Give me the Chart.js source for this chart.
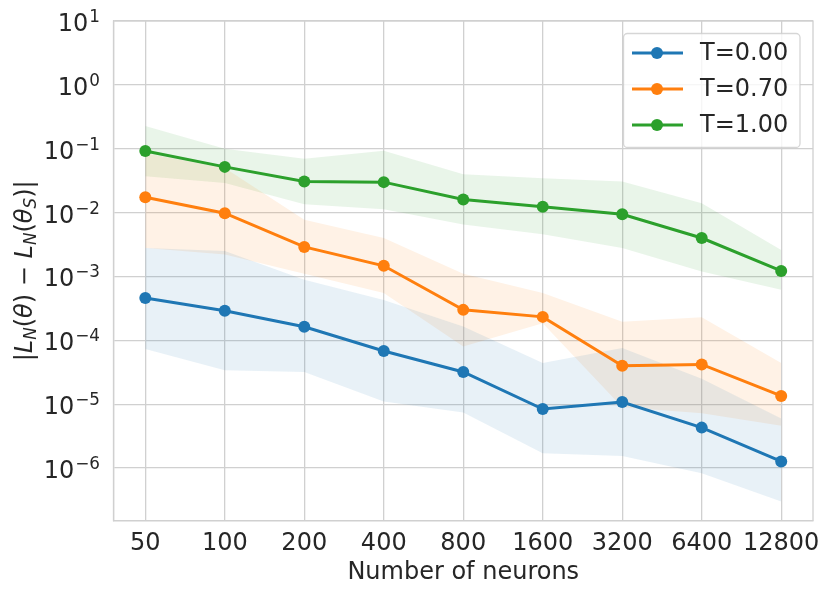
<!DOCTYPE html>
<html>
<head>
<meta charset="utf-8">
<script src="https://cdn.jsdelivr.net/npm/chart.js@4/dist/chart.umd.min.js"></script>
<style>
  html, body { margin: 0; padding: 0; background: #fff; }
  #chart { display: block; }
</style>
</head>
<body>
<canvas id="chart" width="831" height="598"></canvas>
<script>
// x categories
const neurons = ['50', '100', '200', '400', '800', '1600', '3200', '6400', '12800'];
const yPowers = [-6, -5, -4, -3, -2, -1, 0, 1];

// T=0.00
const meanT0 = [4.6e-4, 2.9e-4, 1.63e-4, 6.8e-5, 3.2e-5, 8.4e-6, 1.08e-5, 4.3e-6, 1.27e-6];
const lowT0 = [7.3e-5, 3.4e-5, 3.2e-5, 1.1e-5, 7.4e-6, 1.7e-6, 1.55e-6, 8.3e-7, 3.0e-7];
const highT0 = [2.8e-3, 2.5e-3, 8.9e-4, 4.3e-4, 1.65e-4, 4.4e-5, 7.6e-5, 2.5e-5, 6.0e-6];
// T=0.70
const meanT07 = [1.74e-2, 9.8e-3, 2.9e-3, 1.47e-3, 3.0e-4, 2.33e-4, 4.0e-5, 4.2e-5, 1.35e-5];
const lowT07 = [2.8e-3, 2.2e-3, 1.1e-3, 5.5e-4, 8.0e-5, 1.86e-4, 9.0e-6, 7.2e-6, 4.6e-6];
const highT07 = [8.5e-2, 5.0e-2, 7.7e-3, 4.0e-3, 1.1e-3, 5.5e-4, 1.95e-4, 2.3e-4, 4.4e-5];
// T=1.00
const meanT1 = [9.2e-2, 5.2e-2, 3.06e-2, 3.0e-2, 1.6e-2, 1.24e-2, 9.4e-3, 4.0e-3, 1.22e-3];
const lowT1 = [3.7e-2, 2.9e-2, 1.35e-2, 1.13e-2, 6.5e-3, 4.6e-3, 2.8e-3, 1.2e-3, 6.2e-4];
const highT1 = [0.227, 0.1, 0.07, 0.093, 0.04, 0.0345, 0.0306, 0.014, 0.0026];

const FONT = 'DejaVu Sans';
const TEXT = '#262626';
const GRID = '#d0d0d0';

const xy = arr => arr.map((v, i) => ({ x: i, y: v }));

function meanSet(label, data, color) {
    return {
        label, data: xy(data), borderColor: color, backgroundColor: color,
        borderWidth: 3, pointRadius: 6, pointHoverRadius: 6, pointBorderWidth: 0,
        fill: false, order: 0, main: true
    };
}
function bandSets(low, high, rgb) {
    return [
        { label: 'low', data: xy(low), borderWidth: 0, pointRadius: 0, fill: false, order: 5 },
        { label: 'high', data: xy(high), borderWidth: 0, pointRadius: 0,
          backgroundColor: `rgba(${rgb},0.1)`, fill: '-1', order: 5 }
    ];
}

const datasets = [
    ...bandSets(lowT0, highT0, '31,119,180'),
    ...bandSets(lowT07, highT07, '255,127,14'),
    ...bandSets(lowT1, highT1, '44,160,44'),
    meanSet('T=0.00', meanT0, '#1f77b4'),
    meanSet('T=0.70', meanT07, '#ff7f0e'),
    meanSet('T=1.00', meanT1, '#2ca02c')
];

// y tick labels as 10^n, y title with subscripts, legend box, frame
const extras = {
    id: 'extras',
    afterDraw(chart) {
        const ctx = chart.ctx;
        const area = chart.chartArea;
        const ys = chart.scales.y;
        ctx.save();

        // frame
        ctx.strokeStyle = GRID;
        ctx.lineWidth = 1.3;
        ctx.strokeRect(area.left, area.top, area.right - area.left, area.bottom - area.top);

        // y tick labels
        ctx.fillStyle = TEXT;
        ctx.textBaseline = 'alphabetic';
        yPowers.forEach(p => {
            const y = ys.getPixelForValue(Math.pow(10, p));
            const exp = p < 0 ? '\u2212' + (-p) : String(p);
            ctx.font = `16.8px "${FONT}"`;
            const ew = ctx.measureText(exp).width;
            ctx.textAlign = 'right';
            ctx.fillText(exp, 100, y + 1);
            ctx.font = `24px "${FONT}"`;
            ctx.fillText('10', 100 - ew - 1, y + 10);
        });

        // y title: |L_N(θ) − L_N(θ_S)|
        const runs = [
            { t: '|' }, { t: 'L', it: true }, { t: 'N', it: true, sub: true },
            { t: '(' }, { t: '\u03b8', it: true }, { t: ')' }, { t: ' \u2212 ' },
            { t: 'L', it: true }, { t: 'N', it: true, sub: true }, { t: '(' },
            { t: '\u03b8', it: true }, { t: 'S', it: true, sub: true }, { t: ')' }, { t: '|' }
        ];
        const runFont = r => `${r.it ? 'italic ' : ''}${r.sub ? 16.8 : 24}px "${FONT}"`;
        let total = 0;
        runs.forEach(r => { ctx.font = runFont(r); r.w = ctx.measureText(r.t).width; total += r.w; });
        ctx.translate(32, (area.top + area.bottom) / 2);
        ctx.rotate(-Math.PI / 2);
        ctx.textAlign = 'left';
        let cx = -total / 2;
        runs.forEach(r => {
            ctx.font = runFont(r);
            ctx.fillText(r.t, cx, r.sub ? 4 : 0);
            cx += r.w;
        });
        ctx.setTransform(1, 0, 0, 1, 0, 0);

        // legend
        const bx = 623.5, by = 33.5, bw = 176.5, bh = 114;
        ctx.beginPath();
        ctx.roundRect(bx, by, bw, bh, 4);
        ctx.fillStyle = 'rgba(255,255,255,0.8)';
        ctx.fill();
        ctx.strokeStyle = 'rgba(204,204,204,0.8)';
        ctx.lineWidth = 1.3;
        ctx.stroke();
        const mains = chart.data.datasets.filter(d => d.main);
        mains.forEach((d, i) => {
            const ly = 53 + i * 36;
            ctx.strokeStyle = d.borderColor;
            ctx.lineWidth = 3;
            ctx.beginPath();
            ctx.moveTo(632, ly);
            ctx.lineTo(683, ly);
            ctx.stroke();
            ctx.fillStyle = d.borderColor;
            ctx.beginPath();
            ctx.arc(657, ly, 6, 0, Math.PI * 2);
            ctx.fill();
            ctx.fillStyle = TEXT;
            ctx.font = `24px "${FONT}"`;
            ctx.textBaseline = 'middle';
            ctx.fillText(d.label, 700, ly + 1);
        });
        ctx.restore();
    }
};

new Chart(document.getElementById('chart'), {
    type: 'line',
    data: { datasets },
    options: {
        responsive: false,
        animation: false,
        layout: { padding: { top: 21, right: 18, bottom: 11, left: 0 } },
        plugins: {
            legend: { display: false },
            tooltip: { enabled: false },
            filler: { propagate: false }
        },
        scales: {
            x: {
                type: 'linear',
                min: -0.4,
                max: 8.4,
                afterBuildTicks: s => { s.ticks = neurons.map((_, i) => ({ value: i })); },
                afterFit: s => { s.height = 66.3; },
                ticks: {
                    callback: v => neurons[v],
                    color: TEXT,
                    font: { family: FONT, size: 24 },
                    padding: 9,
                    maxRotation: 0,
                    autoSkip: false
                },
                grid: { color: GRID, lineWidth: 1.3, drawTicks: false },
                border: { color: GRID, width: 1.3 },
                title: {
                    display: true,
                    text: 'Number of neurons',
                    color: TEXT,
                    font: { family: FONT, size: 24 },
                    padding: { top: 0, bottom: 0 }
                }
            },
            y: {
                type: 'logarithmic',
                min: 1.5e-7,
                max: 10,
                afterBuildTicks: s => { s.ticks = yPowers.map(p => ({ value: Math.pow(10, p) })); },
                afterFit: s => { s.width = 113.5; },
                ticks: { display: false },
                grid: { color: GRID, lineWidth: 1.3, drawTicks: false },
                border: { color: GRID, width: 1.3 }
            }
        }
    },
    plugins: [extras]
});
</script>
</body>
</html>
